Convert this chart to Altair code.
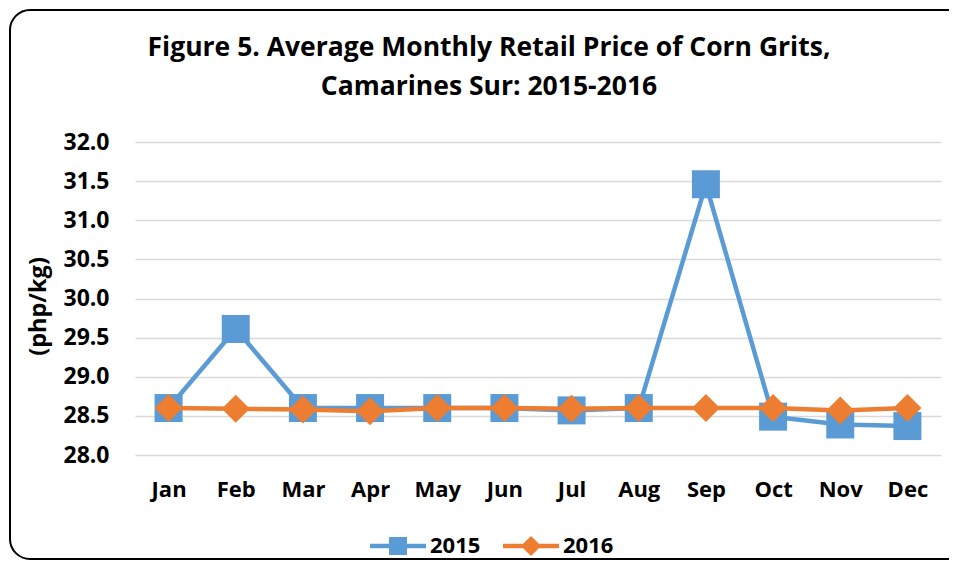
import altair as alt
import pandas as pd

# ---- data ----
months = ["Jan", "Feb", "Mar", "Apr", "May", "Jun", "Jul", "Aug", "Sep", "Oct", "Nov", "Dec"]
price_2015 = [28.60, 29.61, 28.60, 28.60, 28.60, 28.60, 28.57, 28.60, 31.46, 28.49, 28.39, 28.37]
price_2016 = [28.60, 28.59, 28.58, 28.56, 28.60, 28.60, 28.59, 28.60, 28.60, 28.60, 28.57, 28.60]
years = ["2015", "2016"]
colors = ["#5B9BD5", "#ED7D31"]
y_ticks = [28.0, 28.5, 29.0, 29.5, 30.0, 30.5, 31.0, 31.5, 32.0]
title_lines = ["Figure 5. Average Monthly Retail Price of Corn Grits,", "Camarines Sur: 2015-2016"]
y_title = "(php/kg)"

rows = []
for yr, vals in zip(years, [price_2015, price_2016]):
    for m, v in zip(months, vals):
        rows.append({"month": m, "year": yr, "price": v})
df = pd.DataFrame(rows)

W, H = 806, 313
FONT = "Open Sans"

x_enc = alt.X(
    "month:N",
    sort=months,
    scale=alt.Scale(domain=months),
    axis=alt.Axis(
        title=None, labelAngle=0, domain=False, ticks=False, tickSize=0, grid=False,
        labelFont=FONT, labelFontSize=22, labelFontWeight="bold", labelColor="black",
        labelPadding=41, labelBaseline="alphabetic",
    ),
)
y_enc = alt.Y(
    "price:Q",
    scale=alt.Scale(domain=[28, 32], zero=False, nice=False),
    axis=alt.Axis(
        values=y_ticks, format=".1f", domain=False, ticks=False, tickSize=0,
        grid=True, gridColor="#D9D9D9", gridWidth=1.5,
        labelFont=FONT, labelFontSize=23, labelFontWeight="bold", labelColor="black",
        labelPadding=26,
        title=y_title, titleFont=FONT, titleFontSize=23.5, titleFontWeight="bold",
        titleColor="black", titleAngle=270, titleX=-97, titleY=164,
        titleAlign="center", titleBaseline="middle",
    ),
)

base = alt.Chart(df)
layers = []
shapes = ["square", "diamond"]
for yr, col, shp in zip(years, colors, shapes):
    sub = base.transform_filter(alt.datum.year == yr)
    layers.append(
        sub.mark_line(color=col, strokeWidth=4.5, strokeJoin="round", strokeCap="round").encode(x=x_enc, y=y_enc)
    )
    layers.append(
        sub.mark_point(shape=shp, filled=True, size=784, color=col, opacity=1, strokeWidth=0).encode(x=x_enc, y=y_enc)
    )

legend_paths = [
    "M-1,-0.08L1,-0.08L1,0.08L-1,0.08Z M-0.32,-0.32L0.32,-0.32L0.32,0.32L-0.32,0.32Z",
    "M-1,-0.08L1,-0.08L1,0.08L-1,0.08Z M0,-0.36L0.36,0L0,0.36L-0.36,0Z",
]
legend_layer = base.transform_filter(alt.datum.price < 0).mark_point(filled=True, opacity=1).encode(
    x=x_enc,
    y=y_enc,
    color=alt.Color(
        "year:N",
        scale=alt.Scale(domain=years, range=colors),
        legend=alt.Legend(
            title=None, orient="none", direction="horizontal", legendX=235, legendY=376,
            symbolSize=3136, symbolStrokeWidth=0, symbolOpacity=1,
            labelFont=FONT, labelFontSize=22, labelFontWeight="bold", labelColor="black",
            labelOffset=4, columnPadding=22, padding=0,
        ),
    ),
    shape=alt.Shape("year:N", scale=alt.Scale(domain=years, range=legend_paths)),
)

frame = alt.Chart(alt.Data(values=[{"f": 1}])).mark_rect(
    filled=False, stroke="black", strokeWidth=2, cornerRadius=20
).encode(
    x=alt.value(-125), x2=alt.value(W + 60), y=alt.value(-132), y2=alt.value(417)
)

chart = alt.layer(frame, *layers, legend_layer).properties(
    width=W,
    height=H,
    title=alt.TitleParams(
        text=title_lines, font=FONT, fontSize=26.5, fontWeight="bold", color="black",
        anchor="middle", frame="group", dx=-49, lineHeight=39, offset=0,
        baseline="bottom", dy=118,
    ),
    autosize=alt.AutoSizeParams(type="none"),
    padding={"left": 127, "top": 134, "right": 8, "bottom": 106},
).configure(font=FONT, background="white").configure_view(stroke=None)

chart.save("out.html", embed_options={"renderer": "svg", "actions": False})
